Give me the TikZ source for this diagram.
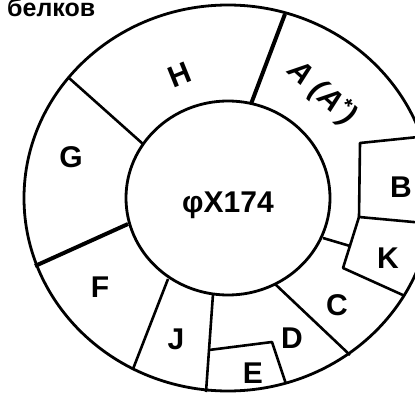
\documentclass[tikz,border=0pt]{standalone}
\usepackage{fontspec}
\setmainfont{Liberation Sans}
\begin{document}
\begin{tikzpicture}[x=1pt,y=-1pt,
  ring/.style={line width=2.8pt},
  div/.style={line width=2.6pt},
  thickdiv/.style={line width=4pt},
  lbl/.style={font=\fontsize{30}{34}\selectfont\bfseries, inner sep=0pt}]
\useasboundingbox (0,0) rectangle (415,393);
\clip (0,0) rectangle (415,393);
\coordinate (c) at (228,198);
% rings
\draw[ring] (c) ellipse [x radius=204, y radius=193];
\draw[ring] (c) ellipse [x radius=102, y radius=97];
% dividers
\coordinate (gho) at (69,78);   \coordinate (ghi) at (143,144);
\coordinate (hao) at (285,14);  \coordinate (hai) at (251,104);
\coordinate (gfo) at (35,266);  \coordinate (gfi) at (128,224);
\coordinate (fjo) at (133,369); \coordinate (fji) at (168,279);
\coordinate (jdo) at (206,392); \coordinate (jdi) at (213,294);
\coordinate (dco) at (350,355); \coordinate (dci) at (275,284);
\coordinate (e1) at (209,350);  \coordinate (e2) at (272,342); \coordinate (e3) at (286,384);
\coordinate (b1) at (428,136);  \coordinate (b2) at (360,143); \coordinate (b3) at (359,217); \coordinate (b4) at (435,224);
\coordinate (k1) at (343,268);  \coordinate (k2) at (405,296);
\coordinate (ci) at (323,238);  \coordinate (ck) at (350,246);
\draw[div] (gho) -- (ghi);
\draw[thickdiv] (hao) -- (hai);
\draw[thickdiv] (gfo) -- (gfi);
\draw[div] (fjo) -- (fji);
\draw[div] (jdo) -- (jdi);
\draw[div] (dco) -- (dci);
\draw[div, line join=round] (e1) -- (e2) -- (e3);
\draw[div, line join=round] (b1) -- (b2) -- (b3) -- (b4);
\draw[div, line join=round] (b3) -- (k1) -- (k2);
\draw[div] (ci) -- (ck);
% labels
\node[lbl, anchor=base west, font=\fontsize{25}{30}\selectfont\bfseries] (bel) at (7,17) {белков};
\node[lbl] (center) at (228,205) {φX174};
\node[lbl, rotate=22] (H) at (180,75) {H};
\node[lbl, rotate=-42, font=\fontsize{30}{34}\selectfont\bfseries\itshape] (A) at (322,93) {A (A\textsuperscript{*})};
\node[lbl] (G) at (71,157) {G};
\node[lbl] (F) at (100,287) {F};
\node[lbl] (J) at (176,339) {J};
\node[lbl] (E) at (253,373) {E};
\node[lbl] (D) at (292,338) {D};
\node[lbl] (C) at (337,305) {C};
\node[lbl] (K) at (388,258) {K};
\node[lbl] (B) at (401,187) {B};
\end{tikzpicture}
\end{document}
